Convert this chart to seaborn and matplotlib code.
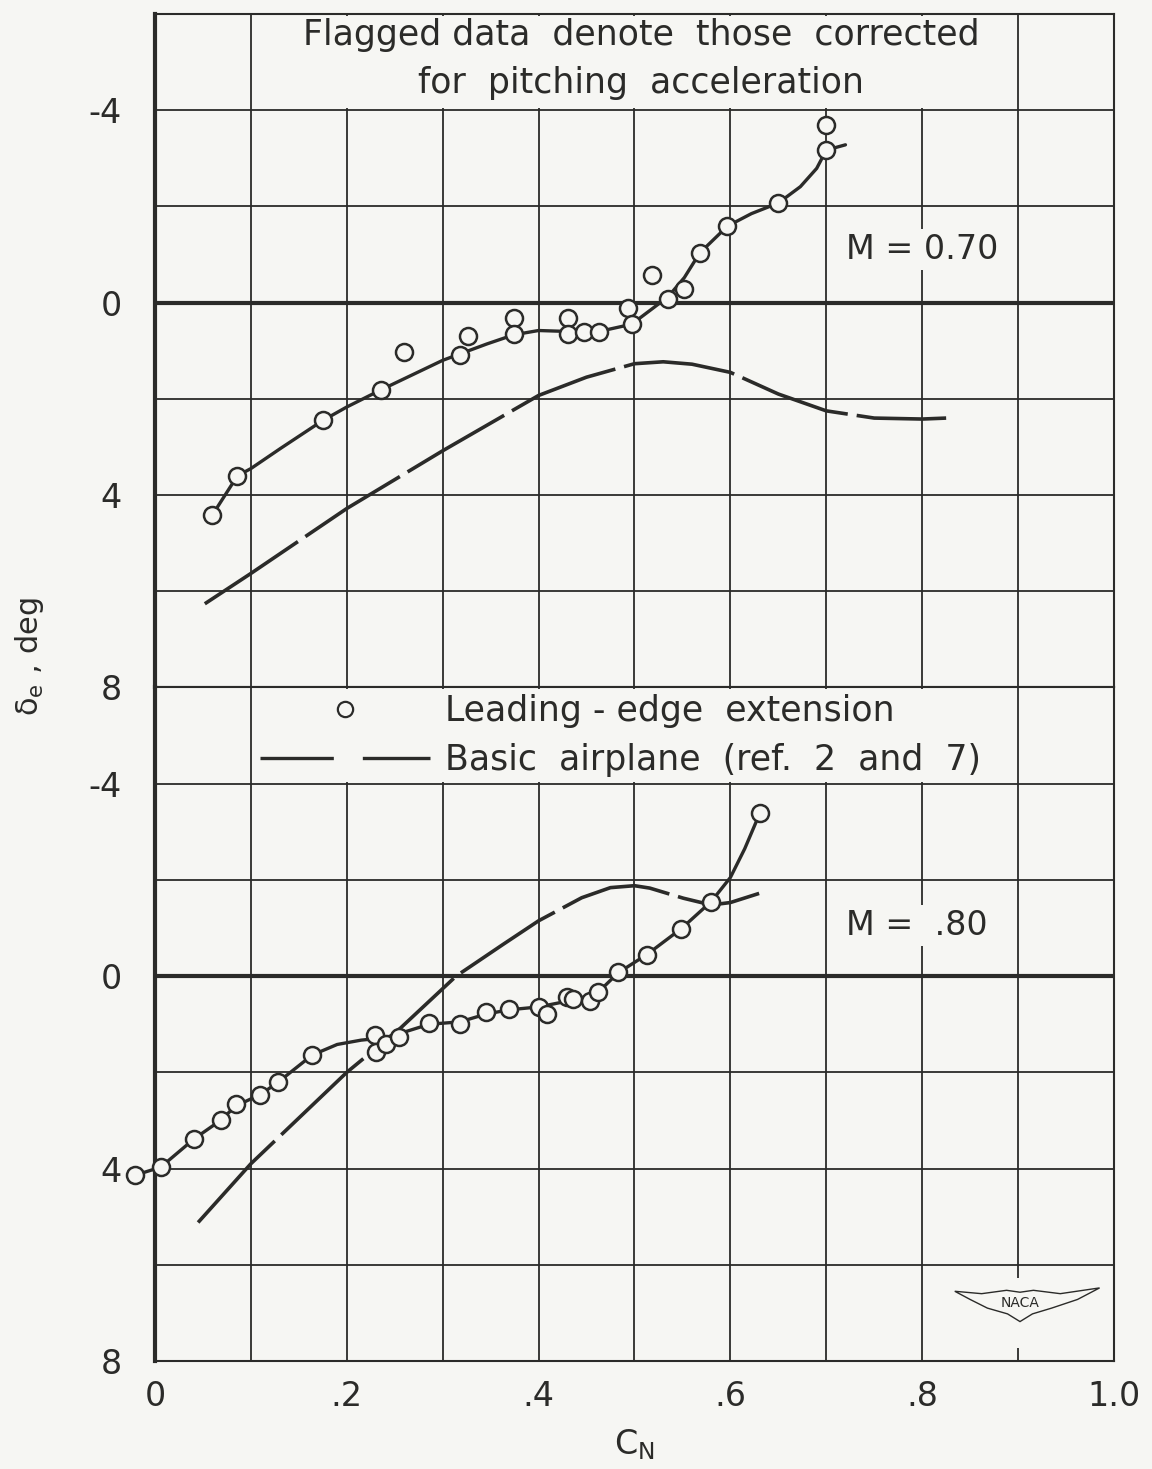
import numpy as np
import matplotlib
matplotlib.use("Agg")
import matplotlib.pyplot as plt
from matplotlib.lines import Line2D
from matplotlib.patches import Polygon, Rectangle
import seaborn as sns

# M = 0.70 -- leading-edge extension, test points
le70_cn = [0.060, 0.086, 0.175, 0.236, 0.260, 0.318, 0.326, 0.374, 0.374, 0.431, 0.431, 0.447,
           0.463, 0.493, 0.497, 0.518, 0.535, 0.552, 0.568, 0.597, 0.650, 0.700, 0.700]
le70_de = [4.41, 3.60, 2.45, 1.81, 1.03, 1.08, 0.69, 0.33, 0.66, 0.32, 0.66, 0.61,
           0.61, 0.12, 0.45, -0.58, -0.08, -0.29, -1.03, -1.59, -2.07, -3.17, -3.70]

# M = 0.70 -- faired curve through the test points
fair70_cn = [0.060, 0.086, 0.100, 0.131, 0.175, 0.200, 0.236, 0.300, 0.346, 0.374, 0.400, 0.431,
             0.463, 0.497, 0.515, 0.535, 0.552, 0.568, 0.597, 0.622, 0.650, 0.673, 0.690, 0.700, 0.720]
fair70_de = [4.41, 3.60, 3.45, 3.03, 2.45, 2.17, 1.81, 1.20, 0.86, 0.67, 0.58, 0.60,
             0.60, 0.45, 0.18, -0.12, -0.52, -1.03, -1.59, -1.85, -2.07, -2.41, -2.79, -3.17, -3.28]

# M = 0.70 -- basic airplane (ref. 2 and 7)
base70_cn = [0.052, 0.100, 0.200, 0.300, 0.400, 0.450, 0.500, 0.530, 0.560, 0.600, 0.650,
             0.700, 0.750, 0.800, 0.825]
base70_de = [6.26, 5.63, 4.28, 3.08, 1.93, 1.55, 1.27, 1.23, 1.28, 1.45, 1.90,
             2.25, 2.40, 2.42, 2.40]

# M = 0.80 -- leading-edge extension, test points
le80_cn = [-0.021, 0.006, 0.041, 0.069, 0.084, 0.110, 0.128, 0.164, 0.229, 0.231, 0.241, 0.255,
           0.286, 0.318, 0.345, 0.369, 0.400, 0.409, 0.430, 0.436, 0.454, 0.462, 0.483, 0.513,
           0.549, 0.580, 0.631]
le80_de = [4.14, 3.97, 3.38, 2.99, 2.66, 2.48, 2.21, 1.64, 1.22, 1.58, 1.42, 1.26,
           0.97, 0.99, 0.75, 0.68, 0.65, 0.78, 0.43, 0.48, 0.52, 0.33, -0.08, -0.45,
           -0.99, -1.55, -3.40]

# M = 0.80 -- faired curve
fair80_cn = [-0.021, 0.006, 0.041, 0.069, 0.084, 0.110, 0.128, 0.164, 0.190, 0.215, 0.240, 0.262,
             0.286, 0.318, 0.345, 0.369, 0.400, 0.430, 0.450, 0.465, 0.483, 0.513, 0.549, 0.580,
             0.600, 0.615, 0.631]
fair80_de = [4.14, 3.97, 3.38, 2.99, 2.70, 2.46, 2.21, 1.64, 1.42, 1.33, 1.28, 1.15,
             1.00, 0.95, 0.79, 0.70, 0.64, 0.52, 0.42, 0.28, -0.07, -0.45, -0.99, -1.55,
             -2.05, -2.65, -3.40]

# M = 0.80 -- basic airplane
base80_cn = [0.045, 0.100, 0.150, 0.200, 0.256, 0.314, 0.363, 0.400, 0.445, 0.475, 0.500,
             0.516, 0.551, 0.580, 0.600, 0.630]
base80_de = [5.12, 3.90, 2.95, 2.00, 1.08, 0.00, -0.66, -1.15, -1.63, -1.84, -1.88,
             -1.83, -1.62, -1.48, -1.53, -1.72]

cn_ticks = np.round(np.arange(0, 1.01, 0.1), 1)
cn_labels = ["0", "", ".2", "", ".4", "", ".6", "", ".8", "", "1.0"]
de_ticks = np.arange(-6, 9, 2)
de_labels = ["", "-4", "", "0", "", "4", "", "8"]

paper = "#f6f6f3"
ink = "#2b2b29"

sns.set_style("white")
plt.rcParams["font.family"] = ["DejaVu Sans"]
plt.rcParams["mathtext.default"] = "regular"

fig, (ax1, ax2) = plt.subplots(2, 1, figsize=(11.52, 14.69), dpi=100, sharex=True)
fig.patch.set_facecolor(paper)
fig.subplots_adjust(left=0.1345, right=0.967, top=0.9905, bottom=0.0735, hspace=0)


def draw_panel(ax, le_cn, le_de, fair_cn, fair_de, base_cn, base_de):
    sns.lineplot(x=fair_cn, y=fair_de, sort=False, estimator=None, color=ink, lw=2.4, ax=ax, zorder=3)
    ax.lines[-1].set_clip_on(False)
    sns.lineplot(x=base_cn, y=base_de, sort=False, estimator=None, color=ink, lw=2.6, ax=ax, zorder=3)
    ax.lines[-1].set_dashes((31, 2.5))
    sns.scatterplot(x=le_cn, y=le_de, s=150, color=paper, edgecolor=ink, linewidth=1.8, ax=ax, zorder=4)
    ax.collections[-1].set_clip_on(False)


def style_panel(ax):
    ax.set_facecolor(paper)
    ax.set_xlim(0, 1.0)
    ax.set_ylim(8, -6)
    ax.set_xticks(cn_ticks)
    ax.set_xticklabels(cn_labels)
    ax.set_yticks(de_ticks)
    ax.set_yticklabels(de_labels)
    ax.grid(True, color=ink, lw=1.3)
    ax.set_axisbelow(True)
    ax.axhline(0, color=ink, lw=3.0, zorder=1.5)
    ax.tick_params(axis="y", length=0, labelsize=24, colors=ink, pad=24)
    ax.tick_params(axis="x", length=0, labelsize=24, colors=ink, pad=14)
    for sp in ax.spines.values():
        sp.set_color(ink)
        sp.set_linewidth(1.5)
    ax.spines["left"].set_linewidth(3.0)
    ax.set_xlabel("")
    ax.set_ylabel("")
    # blank strip behind the note / legend row
    ax.add_patch(Rectangle((0.15, -5.96), 0.70, 1.92, facecolor=paper, edgecolor="none", zorder=1))


draw_panel(ax1, le70_cn, le70_de, fair70_cn, fair70_de, base70_cn, base70_de)
draw_panel(ax2, le80_cn, le80_de, fair80_cn, fair80_de, base80_cn, base80_de)
style_panel(ax1)
style_panel(ax2)

box = dict(boxstyle="square,pad=0.12", facecolor=paper, edgecolor="none")
ax1.text(0.507, -5.06, "Flagged data  denote  those  corrected\nfor  pitching  acceleration",
         ha="center", va="center", fontsize=25, color=ink, linespacing=1.53, zorder=5)
ax1.text(0.721, -1.1, "M = 0.70", ha="left", va="center", fontsize=24, color=ink, bbox=box, zorder=5)
ax2.text(0.721, -1.06, "M =  .80", ha="left", va="center", fontsize=24, color=ink, bbox=box, zorder=5)

handles = [Line2D([], [], ls="none", marker="o", ms=11, mfc=paper, mec=ink, mew=1.6),
           Line2D([], [], color=ink, lw=2.4, dashes=(22, 8.7))]
leg = ax2.legend(handles, ["Leading - edge  extension", "Basic  airplane  (ref.  2  and  7)"],
                 loc="upper left", bbox_to_anchor=(0.104, -5.97), bbox_transform=ax2.transData,
                 fontsize=25, handlelength=4.9, handletextpad=0.43, labelspacing=0.43,
                 borderpad=0.15, borderaxespad=0, frameon=False)
for t in leg.get_texts():
    t.set_color(ink)

# NACA emblem
ax2.add_patch(Rectangle((0.893, 6.27), 0.014, 1.45, facecolor=paper, edgecolor="none", zorder=2))
wing = [(0.834, 6.55), (0.862, 6.60), (0.888, 6.53), (0.902, 6.57), (0.916, 6.53), (0.944, 6.60),
        (0.985, 6.48), (0.962, 6.72), (0.935, 6.90), (0.915, 7.02), (0.902, 7.18), (0.889, 7.02),
        (0.868, 6.90), (0.850, 6.72)]
ax2.add_patch(Polygon(wing, closed=True, facecolor=paper, edgecolor=ink, lw=1.0, zorder=5))
ax2.text(0.902, 6.80, "NACA", ha="center", va="center", fontsize=10, color=ink, zorder=6)

ax2.set_xlabel(r"$C_N$", fontsize=24, color=ink, labelpad=10)
fig.text(0.026, 0.553, r"$\delta_e$ , deg", rotation=90, ha="center", va="center", fontsize=22, color=ink)

fig.savefig("out.png", dpi=100, facecolor=paper)
